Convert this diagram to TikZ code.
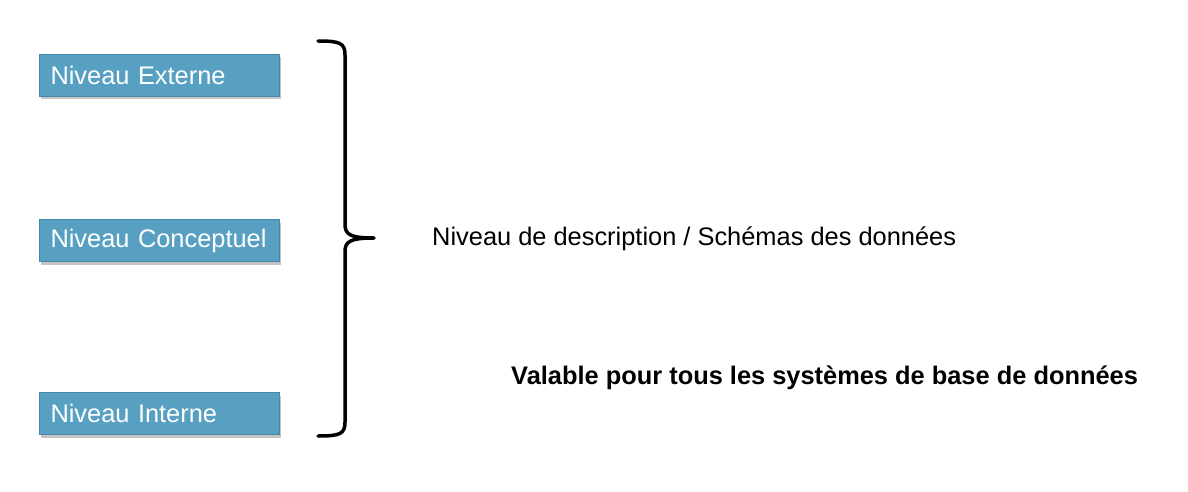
\documentclass[tikz,border=0pt]{standalone}
\usepackage{fontspec}
\setmainfont{Liberation Sans}
\usetikzlibrary{shadows}
\definecolor{boxblue}{RGB}{88,160,194}
\definecolor{boxedge}{RGB}{70,135,168}
\begin{document}
\begin{tikzpicture}[x=1pt,y=-1pt,
  levelbox/.style={draw=boxedge, line width=1pt, fill=boxblue, anchor=north west,
    minimum width=240pt, minimum height=42pt, text width=218pt, inner xsep=11pt,
    align=left, text=white, font=\fontsize{25.4}{30}\selectfont,
    drop shadow={shadow xshift=1pt, shadow yshift=-3pt, fill=black!45, opacity=0.5}},
  label/.style={font=\fontsize{25.4}{30}\selectfont, anchor=west, inner sep=0pt},
  bracestyle/.style={line width=3.5pt, line cap=round, line join=round}]
\useasboundingbox (0,0) rectangle (1188,492);
\node[levelbox] (ext) at (39,54) {Niveau Externe};
\node[levelbox] (conc) at (39,219) {Niveau Conceptuel};
\node[levelbox] (int) at (39,392) {Niveau Interne};
\coordinate (btop) at (318,41);
\coordinate (btip) at (374,238);
\coordinate (bbot) at (318,436);
\draw[bracestyle] (btop) .. controls (340,41) and (345,43) .. (345,55) -- (345,224)
  .. controls (345,234) and (349,238) .. (btip)
  .. controls (349,238) and (345,242) .. (345,252) -- (345,422)
  .. controls (345,434) and (340,436) .. (bbot);
\node[label] (desc) at (432,239) {Niveau de description / Schémas des données};
\node[label, font=\fontsize{25.4}{30}\selectfont\bfseries] (valable) at (511,378) {Valable pour tous les systèmes de base de données};
\end{tikzpicture}
\end{document}
